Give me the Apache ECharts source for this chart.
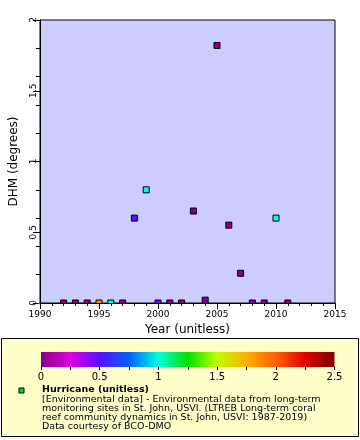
<!DOCTYPE html>
<html><head><meta charset="utf-8">
<script src="https://cdn.jsdelivr.net/npm/echarts@6/dist/echarts.min.js"></script>
<style>html,body{margin:0;padding:0;background:#fff}#c{width:360px;height:440px}</style>
</head><body><div id="c"></div>
<script>
var years = [1992,1993,1994,1995,1996,1997,1998,1999,2000,2001,2002,2003,2004,2005,2006,2007,2008,2009,2010,2011];
var dhm = [0,0,0,0,0,0,0.6,0.8,0,0,0,0.65,0.02,1.82,0.55,0.21,0,0,0.6,0];
var hurricane = [0,0,0,1.88,1,0,0.5,1,0.5,0,0,0,0,0,0,0,0,0,1,0];
var yTicks = [0,0.5,1,1.5,2];
var cbTicks = [0,0.5,1,1.5,2,2.5];
var palette = ['#880088','#e000e0','#5a10ff','#0060ff','#00ffe0','#00e000','#c0ff00','#ffb000','#ff6000','#e00000','#780000'];
var legendLines = [
  '[Environmental data] - Environmental data from long-term',
  'monitoring sites in St. John, USVI. (LTREB Long-term coral',
  'reef community dynamics in St. John, USVI: 1987-2019)',
  'Data courtesy of BCO-DMO'
];

var pts = years.map(function(y,i){return [y, dhm[i], hurricane[i]];});
var stops = palette.map(function(c,i){return {offset:i/(palette.length-1), color:c};});
var font = 'DejaVu Sans';

var graphics = [
  {type:'rect', shape:{x:38.5,y:303.6,width:297,height:14}, style:{fill:'#fff'}, zlevel:1, z:5, silent:true},
  {type:'rect', shape:{x:1.5,y:338.5,width:357,height:98}, style:{fill:'#ffffcc',stroke:'#000',lineWidth:1}, z:0},
  {type:'rect', shape:{x:41,y:352,width:293.5,height:15}, style:{fill:{type:'linear',x:0,y:0,x2:1,y2:0,colorStops:stops}}, z:1},
  {type:'rect', shape:{x:19,y:388,width:5,height:5}, style:{fill:'#00e000',stroke:'#000',lineWidth:1}, z:6},
  {type:'text', left:42, top:385, style:{text:'Hurricane (unitless)', font:'bold 9.5px "DejaVu Sans"', fill:'#000'}, z:6}
];
legendLines.forEach(function(t,i){
  graphics.push({type:'text', left:42, top:394.5+i*9, style:{text:t, font:'9.5px "DejaVu Sans"', fill:'#000'}, z:6});
});

var chart = echarts.init(document.getElementById('c'), null, {renderer:'canvas'});
chart.setOption({
  animation:false,
  textStyle:{fontFamily:font},
  grid:[
    {left:38, right:25, top:20, bottom:137, show:true, backgroundColor:'#ccccff', borderColor:'#000', borderWidth:1},
    {left:41, right:25.5, top:352, height:15, show:false}
  ],
  xAxis:[
    {type:'value', gridIndex:0, min:1990, max:2015, interval:5, zlevel:1, z:10,
      name:'Year (unitless)', nameLocation:'middle', nameGap:20,
      nameTextStyle:{fontSize:12, color:'#000', fontFamily:font},
      axisLine:{show:true, lineStyle:{color:'#000'}},
      axisTick:{show:true, length:6, lineStyle:{color:'#000'}},
      minorTick:{show:true, splitNumber:5, length:3, lineStyle:{color:'#000'}},
      axisLabel:{fontSize:9, color:'#000', margin:7, fontFamily:font, formatter:function(v){return String(v);}},
      splitLine:{show:false}},
    {type:'value', gridIndex:1, min:0, max:2.5, interval:0.5, zlevel:1, z:10,
      axisLine:{show:false},
      axisTick:{show:true, length:3, lineStyle:{color:'#000'}},
      minorTick:{show:true, splitNumber:2, length:3, lineStyle:{color:'#000'}},
      axisLabel:{fontSize:10, color:'#000', margin:5, fontFamily:font},
      splitLine:{show:false}}
  ],
  yAxis:[
    {type:'value', gridIndex:0, min:0, max:2, interval:0.5, position:'left', z:10,
      name:'DHM (degrees)', nameLocation:'middle', nameGap:20,
      nameTextStyle:{fontSize:12, color:'#000', fontFamily:font},
      axisLine:{show:true, lineStyle:{color:'#000'}},
      axisTick:{show:true, length:7, lineStyle:{color:'#000'}},
      axisLabel:{fontSize:9, color:'#000', margin:2, rotate:90, fontFamily:font},
      splitLine:{show:false}},
    {type:'value', gridIndex:0, min:0, max:2, interval:0.2, position:'left', z:10,
      axisLine:{show:false},
      axisTick:{show:true, length:4, lineStyle:{color:'#000'}},
      axisLabel:{show:false},
      splitLine:{show:false}},
    {type:'value', gridIndex:1, min:0, max:1, show:false}
  ],
  visualMap:{type:'continuous', show:false, dimension:2, seriesIndex:0, min:0, max:2.5, inRange:{color:palette}},
  series:[
    {type:'scatter', xAxisIndex:0, yAxisIndex:0, data:pts, symbol:'rect', symbolSize:6,
      itemStyle:{borderColor:'#000', borderWidth:1, opacity:1}, clip:false}
  ],
  graphic:graphics
});
</script></body></html>
